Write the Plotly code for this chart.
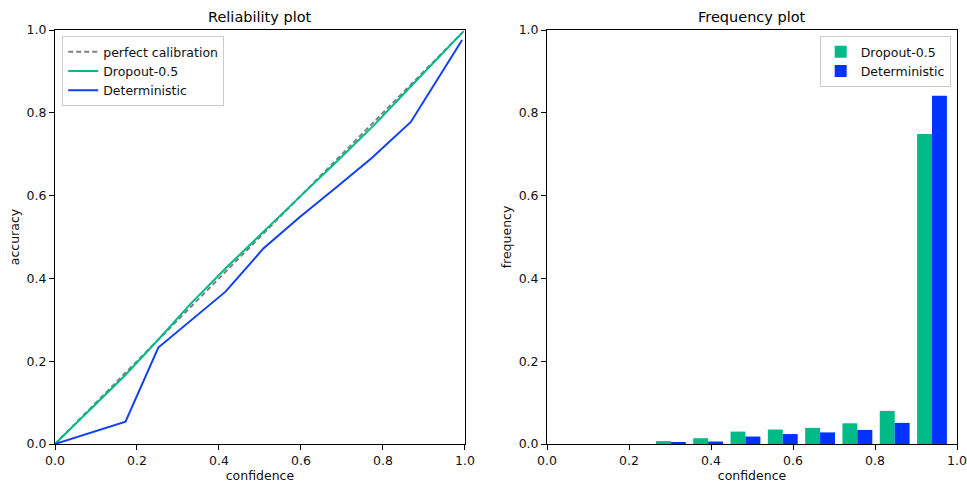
import plotly.graph_objects as go

# ---- data ----
diag_x = [0.0, 1.0]
diag_y = [0.0, 1.0]

dropout_conf = [0.0, 0.17, 0.25, 0.33, 0.42, 0.51, 0.60, 0.69, 0.78, 0.87, 0.993]
dropout_acc = [0.0, 0.165, 0.25, 0.338, 0.428, 0.515, 0.60, 0.685, 0.772, 0.866, 0.993]

det_conf = [0.0, 0.172, 0.252, 0.416, 0.509, 0.598, 0.685, 0.772, 0.868, 0.993]
det_acc = [0.0, 0.054, 0.233, 0.368, 0.473, 0.549, 0.619, 0.690, 0.778, 0.976]

bin_centers = [0.302, 0.393, 0.484, 0.575, 0.666, 0.757, 0.848, 0.939]
freq_dropout = [0.007, 0.014, 0.030, 0.035, 0.039, 0.050, 0.080, 0.749]
freq_det = [0.003, 0.006, 0.018, 0.024, 0.028, 0.034, 0.051, 0.841]

tick_vals = [0.0, 0.2, 0.4, 0.6, 0.8, 1.0]
tick_text = ["0.0", "0.2", "0.4", "0.6", "0.8", "1.0"]

GREEN = "#00BB87"
BLUE = "#0033FF"
LBLUE = "#1040F5"
FONT = "DejaVu Sans"
TXT = "#111111"

fig = go.Figure()
fig.add_trace(go.Scatter(x=diag_x, y=diag_y, mode="lines", name="perfect calibration",
                         line=dict(color="#808080", width=2, dash="5px,3px"),
                         xaxis="x", yaxis="y", legend="legend"))
fig.add_trace(go.Scatter(x=dropout_conf, y=dropout_acc, mode="lines", name="Dropout-0.5",
                         line=dict(color=GREEN, width=2), xaxis="x", yaxis="y", legend="legend"))
fig.add_trace(go.Scatter(x=det_conf, y=det_acc, mode="lines", name="Deterministic",
                         line=dict(color=LBLUE, width=2), xaxis="x", yaxis="y", legend="legend"))

fig.add_trace(go.Bar(x=bin_centers, y=freq_dropout, name="Dropout-0.5", marker=dict(color=GREEN, line=dict(width=0)),
                     xaxis="x2", yaxis="y2", legend="legend2"))
fig.add_trace(go.Bar(x=bin_centers, y=freq_det, name="Deterministic", marker=dict(color=BLUE, line=dict(width=0)),
                     xaxis="x2", yaxis="y2", legend="legend2"))

axis_common = dict(range=[0, 1], tickvals=tick_vals, ticktext=tick_text, showgrid=False, zeroline=False,
                   showline=True, linecolor="black", linewidth=1, mirror=True, ticks="outside",
                   ticklen=5, tickcolor="black", automargin=False,
                   tickfont=dict(family=FONT, size=12.5, color=TXT))

fig.update_layout(
    width=967, height=485,
    margin=dict(l=55, r=10, t=30, b=41),
    plot_bgcolor="white", paper_bgcolor="white",
    font=dict(family=FONT, size=12.5, color=TXT),
    barmode="group", bargap=0.2, bargroupgap=0,
    xaxis=dict(domain=[0, 0.4545], anchor="y",
               title=dict(text="confidence", font=dict(size=12.5), standoff=2), **axis_common),
    yaxis=dict(domain=[0, 1], anchor="x",
               title=dict(text="accuracy", font=dict(size=12.5), standoff=4), **axis_common),
    xaxis2=dict(domain=[0.5455, 1], anchor="y2",
                title=dict(text="confidence", font=dict(size=12.5), standoff=2), **axis_common),
    yaxis2=dict(domain=[0, 1], anchor="x2",
                title=dict(text="frequency", font=dict(size=12.5), standoff=4), **axis_common),
    legend=dict(x=0.008, y=0.985, xref="paper", yref="paper", xanchor="left", yanchor="top",
                bgcolor="rgba(255,255,255,0.8)", bordercolor="#cccccc", borderwidth=1,
                font=dict(family=FONT, size=12.5, color=TXT), tracegroupgap=0, itemwidth=30),
    legend2=dict(x=0.993, y=0.985, xref="paper", yref="paper", xanchor="right", yanchor="top",
                 bgcolor="rgba(255,255,255,0.8)", bordercolor="#cccccc", borderwidth=1,
                 font=dict(family=FONT, size=12.5, color=TXT), tracegroupgap=0, itemwidth=30),
    annotations=[
        dict(text="Reliability plot", x=0.2273, y=1, xref="paper", yref="paper", xanchor="center",
             yanchor="bottom", yshift=3, showarrow=False, font=dict(family=FONT, size=14.5, color="#000")),
        dict(text="Frequency plot", x=0.7727, y=1, xref="paper", yref="paper", xanchor="center",
             yanchor="bottom", yshift=3, showarrow=False, font=dict(family=FONT, size=14.5, color="#000")),
    ],
)

fig.write_html("out.html", config={"displayModeBar": False},
               post_script="document.body.style.margin='0';document.body.style.overflow='hidden';")
